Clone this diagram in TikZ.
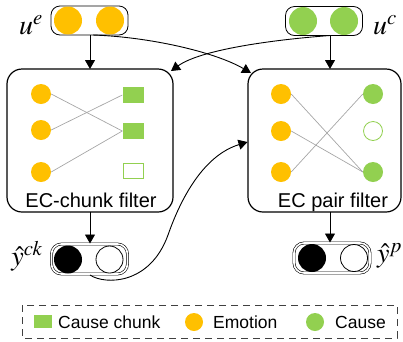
\documentclass[tikz,border=0pt]{standalone}
\usepackage{mathptmx}
\usepackage{fontspec}
\setmainfont{Liberation Sans}
\usetikzlibrary{arrows.meta}
\definecolor{emo}{HTML}{FFC000}
\definecolor{cau}{HTML}{92D050}
\definecolor{lnk}{HTML}{A6A6A6}
\begin{document}
\begin{tikzpicture}[x=1pt,y=-1pt,
  pill/.style={draw, rounded corners=9pt, line width=0.8pt, minimum width=77pt, minimum height=29pt, inner sep=0pt},
  dpill/.style={draw, double, double distance=1.6pt, rounded corners=10pt, line width=0.6pt, minimum width=76pt, minimum height=30pt, inner sep=0pt},
  bigdot/.style={circle, minimum size=28pt, inner sep=0pt},
  dot/.style={circle, minimum size=20pt, inner sep=0pt},
  sq/.style={rectangle, minimum width=21pt, minimum height=16pt, inner sep=0pt},
  filterbox/.style={draw, rounded corners=15pt, line width=1.2pt, inner sep=0pt},
  link/.style={draw=lnk, line width=0.7pt},
  conn/.style={line width=0.9pt, -{Triangle[length=9pt,width=10pt]}},
  mlabel/.style={font=\fontsize{28}{30}\selectfont, inner sep=0pt},
  flabel/.style={font=\fontsize{20}{22}\selectfont, anchor=base, inner sep=0pt},
  lglabel/.style={font=\fontsize{17.5}{19}\selectfont, anchor=base west, inner sep=0pt}
]
\useasboundingbox (0,0) rectangle (403,341);

% top input boxes
\node[pill] (ue) at (89.5,20.5) {};
\node[bigdot, fill=emo] (ue1) at (68,20.5) {};
\node[bigdot, fill=emo] (ue2) at (110,20.5) {};
\node[mlabel] (uelab) at (31,25) {$u^{e}$};

\node[pill] (uc) at (324,21) {};
\node[bigdot, fill=cau] (uc1) at (303,21) {};
\node[bigdot, fill=cau] (uc2) at (344,21) {};
\node[mlabel] (uclab) at (385,25) {$u^{c}$};

% filter boxes
\node[filterbox, minimum width=166pt, minimum height=143pt] (lf) at (90,140.5) {};
\node[filterbox, minimum width=153pt, minimum height=143pt] (rf) at (324.5,140.5) {};
\node[flabel] (lft) at (91,207) {EC-chunk filter};
\node[flabel] (rft) at (333,207) {EC pair filter};

% left filter contents
\node[dot, fill=emo] (le1) at (41,94) {};
\node[dot, fill=emo] (le2) at (41,130) {};
\node[dot, fill=emo] (le3) at (41,172) {};
\node[sq, fill=cau] (lc1) at (133,95) {};
\node[sq, fill=cau] (lc2) at (133,131) {};
\node[sq, draw=cau, fill=white, line width=0.8pt, minimum width=20pt, minimum height=15pt] (lc3) at (133,171) {};
\draw[link] (le1.east) -- (lc2.west);
\draw[link] (le2.east) -- (lc1.west);
\draw[link] (le3.east) -- (lc2.west);

% right filter contents
\node[dot, fill=emo] (re1) at (281,94) {};
\node[dot, fill=emo] (re2) at (281,131) {};
\node[dot, fill=emo] (re3) at (281,172) {};
\node[dot, fill=cau] (rc1) at (373,94) {};
\node[dot, draw=cau, fill=white, line width=0.8pt, minimum size=19pt] (rc2) at (373,131) {};
\node[dot, fill=cau] (rc3) at (373,172) {};
\draw[link] (re1.east) -- (rc3.west);
\draw[link] (re2.east) -- (rc3.west);
\draw[link] (re3.east) -- (rc1.west);

% output boxes
\node[dpill] (yck) at (89.5,259) {};
\node[bigdot, fill=black] (yck1) at (68,259.5) {};
\node[bigdot, draw=black, fill=white, line width=0.8pt, minimum size=27pt] (yck2) at (109.5,259.5) {};
\node[mlabel] (ycklab) at (27,256) {$\hat{y}^{ck}$};

\node[dpill] (yp) at (332,258) {};
\node[bigdot, fill=black] (yp1) at (312,258) {};
\node[bigdot, draw=black, fill=white, line width=0.8pt, minimum size=27pt] (yp2) at (354,258) {};
\node[mlabel] (yplab) at (389.5,256) {$\hat{y}^{p}$};

% connector coordinates
\coordinate (ueo) at (90,35);
\coordinate (ueo2) at (93,35);
\coordinate (uco) at (330,35.5);
\coordinate (lfin) at (90,69);
\coordinate (rfin) at (330,69);
\coordinate (lfcorner) at (171,71);
\coordinate (rfcorner) at (251,73);
\coordinate (lfout) at (90,212);
\coordinate (rfout) at (330,212);
\coordinate (yckin) at (90,243.5);
\coordinate (ypin) at (330,242.5);
\coordinate (ycko) at (90,275);
\coordinate (rfleft) at (247.5,142);

\draw[conn] (ueo) -- (lfin);
\draw[conn] (uco) -- (rfin);
\draw[conn] (ueo2) .. controls (150,37) and (215,52) .. (rfcorner);
\draw[conn] (uco) .. controls (270,40) and (200,50) .. (lfcorner);
\draw[conn] (lfout) -- (yckin);
\draw[conn] (rfout) -- (ypin);
\draw[line width=0.9pt] (ycko) .. controls (105,285) and (150,285) .. (168,235) coordinate (mid);
\draw[conn] (mid) .. controls (182,195) and (205,155) .. (rfleft);

% legend
\draw[dashed, dash pattern=on 7pt off 5pt, line width=0.8pt, draw=black!75] (22,305) rectangle (397,338);
\node[rectangle, fill=cau, minimum width=18pt, minimum height=13pt, inner sep=0pt] (lgsq) at (43,321.5) {};
\node[lglabel] (lgt1) at (58,328) {Cause chunk};
\node[circle, fill=emo, minimum size=18pt, inner sep=0pt] (lgemo) at (194,322) {};
\node[lglabel] (lgt2) at (213,328) {Emotion};
\node[circle, fill=cau, minimum size=18pt, inner sep=0pt] (lgcau) at (315,322) {};
\node[lglabel] (lgt3) at (335,328) {Cause};
\end{tikzpicture}
\end{document}
